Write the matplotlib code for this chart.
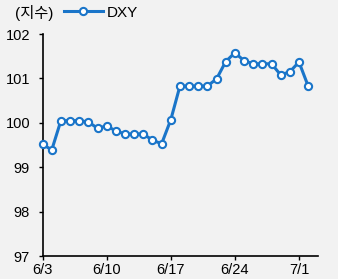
import numpy as np
import pandas as pd
import matplotlib
matplotlib.use("Agg")
import matplotlib.pyplot as plt

plt.rcParams['font.family'] = ['Liberation Sans', 'Noto Sans CJK KR', 'DejaVu Sans']

# DXY daily values, 6/3 ~ 7/2
dxy = [99.52, 99.39, 100.05, 100.05, 100.05, 100.02, 99.88, 99.93, 99.82, 99.75,
       99.75, 99.75, 99.61, 99.53, 100.07, 100.83, 100.83, 100.83, 100.83, 100.99,
       101.38, 101.58, 101.40, 101.33, 101.33, 101.33, 101.08, 101.15, 101.37, 100.83]
dates = pd.date_range("2024-06-03", periods=len(dxy), freq="D")
tick_dates = pd.to_datetime(["2024-06-03", "2024-06-10", "2024-06-17", "2024-06-24", "2024-07-01"])
tick_labels = ["6/3", "6/10", "6/17", "6/24", "7/1"]

bg = "#f2f2f2"
blue = "#1a75c9"

fig = plt.figure(figsize=(3.38, 2.79), dpi=100, facecolor=bg)
ax = fig.add_axes([0.126, 0.082, 0.815, 0.796], facecolor=bg)

ax.plot(dates, dxy, color=blue, lw=2.2, marker='o', ms=5.2, mfc='white',
        mec=blue, mew=1.5, label="DXY", clip_on=False, zorder=3)

ax.set_ylim(97, 102)
ax.set_yticks([97, 98, 99, 100, 101, 102])
ax.set_xlim(pd.Timestamp("2024-06-03"), pd.Timestamp("2024-07-03 02:00"))
ax.set_xticks(tick_dates)
ax.set_xticklabels(tick_labels)

for s in ["top", "right"]:
    ax.spines[s].set_visible(False)
for s in ["left", "bottom"]:
    ax.spines[s].set_linewidth(1.2)
    ax.spines[s].set_color("black")
ax.tick_params(axis='both', direction='out', length=3, width=1.0, labelsize=10.5,
               colors='black')
ax.tick_params(axis='y', pad=6)
ax.tick_params(axis='x', pad=2)

fig.text(0.044, 0.955, "(지수)", fontsize=11, va='center', ha='left')
ax.legend(loc='center left', bbox_to_anchor=(0.188, 0.955), bbox_transform=fig.transFigure,
          frameon=False, fontsize=11, handlelength=2.6, handletextpad=0.2,
          borderpad=0, borderaxespad=0)

fig.savefig("out.png", dpi=100, facecolor=bg)
